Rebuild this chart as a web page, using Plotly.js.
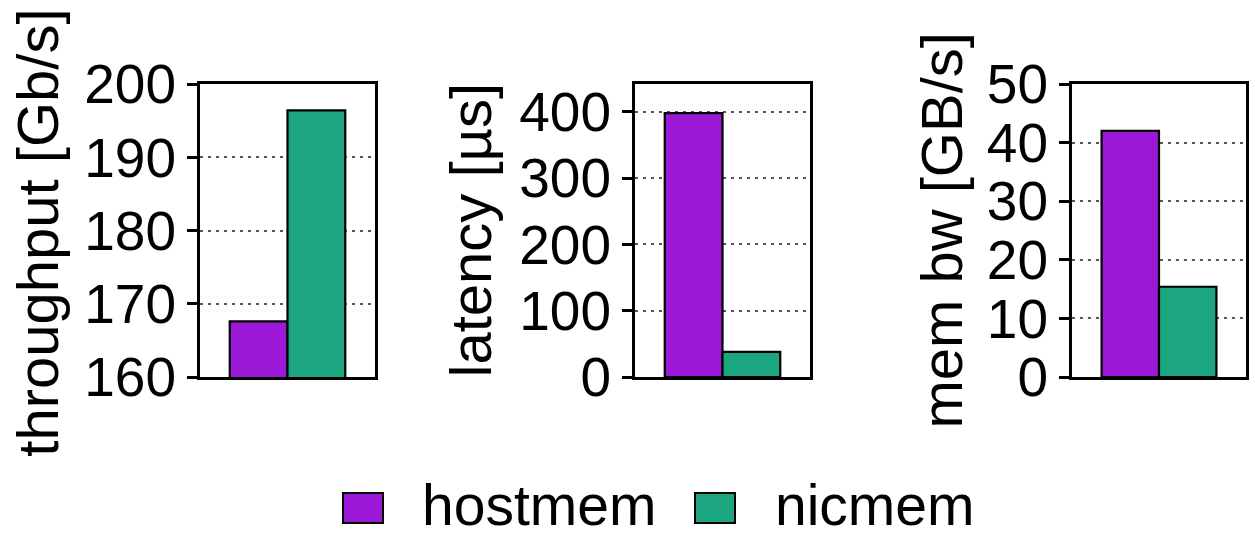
<!DOCTYPE html>
<html>
<head>
<meta charset="utf-8">
<script src="https://cdn.plot.ly/plotly-3.0.1.min.js"></script>
<style>html,body{margin:0;padding:0;background:#fff;}#chart{width:1255px;height:540px;}</style>
</head>
<body>
<div id="chart"></div>
<script>
// ---- data ----
const seriesNames = ["hostmem", "nicmem"];
const seriesColors = ["#9b19d6", "#1ba67f"];
const panelTitles = ["throughput [Gb/s]", "latency [µs]", "mem bw [GB/s]"];
const throughput = [167.6, 196.4];
const latency = [398, 38];
const membw = [42.0, 15.4];
const yRanges = [[160, 200], [0, 442], [0, 50]];
const yDticks = [10, 100, 10];
const panelValues = [throughput, latency, membw];

// ---- layout geometry ----
const W = 1255, H = 540;
const px = v => v / W;
const py = v => 1 - v / H;
const xDomains = [[200, 375], [635, 810], [1072, 1246]];
const yDomain = [py(377), py(84)];
const titleX = [38, 470, 941];

const FONT = "Liberation Sans, Arial, Helvetica, sans-serif";
const traces = [];
const layout = {
  width: W, height: H,
  margin: {l: 0, r: 0, t: 0, b: 0},
  paper_bgcolor: "#fff", plot_bgcolor: "#fff",
  showlegend: false,
  barmode: "group",
  bargap: 0.34,
  bargroupgap: 0,
  font: {family: FONT, color: "#000"},
  annotations: [],
  shapes: []
};

panelValues.forEach((vals, p) => {
  const xa = p === 0 ? "x" : "x" + (p + 1);
  const ya = p === 0 ? "y" : "y" + (p + 1);
  vals.forEach((v, s) => {
    traces.push({
      type: "bar",
      x: [0], y: [v],
      name: seriesNames[s],
      xaxis: xa, yaxis: ya,
      marker: {color: seriesColors[s], line: {color: "#000", width: 2.2}},
      hoverinfo: "skip"
    });
  });
  const xk = p === 0 ? "xaxis" : "xaxis" + (p + 1);
  const yk = p === 0 ? "yaxis" : "yaxis" + (p + 1);
  layout[xk] = {
    domain: [px(xDomains[p][0]), px(xDomains[p][1])],
    anchor: ya,
    range: [-0.5, 0.5],
    showticklabels: false, ticks: "", showgrid: false, zeroline: false,
    showline: true, linecolor: "#000", linewidth: 3, mirror: true,
    fixedrange: true
  };
  layout[yk] = {
    domain: yDomain,
    anchor: xa,
    range: yRanges[p],
    dtick: yDticks[p], tick0: 0,
    ticks: "outside", ticklen: 10, tickwidth: 3, tickcolor: "#000",
    tickfont: {size: 55, family: FONT, color: "#000"},
    showgrid: true, gridcolor: "#555", gridwidth: 2, griddash: "3px,5px",
    zeroline: false,
    showline: true, linecolor: "#000", linewidth: 3, mirror: true,
    fixedrange: true
  };
  layout.annotations.push({
    text: panelTitles[p],
    xref: "paper", yref: "paper",
    x: px(titleX[p]), y: (yDomain[0] + yDomain[1]) / 2 + (p === 0 ? -0.004 : 0),
    xanchor: "center", yanchor: "middle",
    textangle: -90, showarrow: false,
    font: {size: 58, family: FONT, color: "#000"}
  });
});

// ---- legend ----
const legendBoxes = [[343, 383], [695, 735]];
const legendTextX = [420, 773];
seriesNames.forEach((n, s) => {
  layout.shapes.push({
    type: "rect", xref: "paper", yref: "paper",
    x0: px(legendBoxes[s][0]), x1: px(legendBoxes[s][1]),
    y0: py(523), y1: py(493),
    fillcolor: seriesColors[s], line: {color: "#000", width: 2}
  });
  layout.annotations.push({
    text: n, xref: "paper", yref: "paper",
    x: px(legendTextX[s]), y: py(505),
    xanchor: "left", yanchor: "middle", showarrow: false,
    font: {size: 57, family: FONT, color: "#000"}
  });
});

Plotly.newPlot("chart", traces, layout, {displayModeBar: false, staticPlot: true});
</script>
</body>
</html>
